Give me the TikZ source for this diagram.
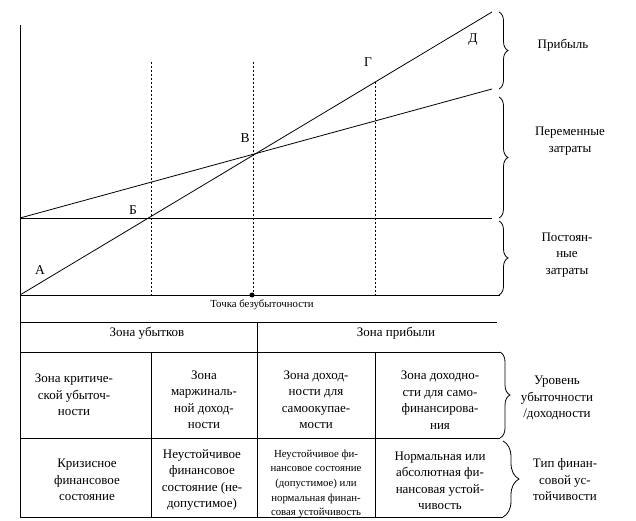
\documentclass[tikz,border=0pt]{standalone}
\usepackage{fontspec}
\setmainfont{Liberation Serif}
\usetikzlibrary{decorations.pathreplacing}
\tikzset{
  ln/.style={line width=0.8pt},
  dsh/.style={line width=0.9pt, dash pattern=on 2.2pt off 1.8pt},
  brc/.style={line width=0.8pt, decorate, decoration={brace, amplitude=#1}},
  txt/.style={align=center, inner sep=0pt, font=\fontsize{13}{16.5}\selectfont},
  sml/.style={align=center, inner sep=0pt, font=\fontsize{10.8}{14.6}\selectfont},
  lbl/.style={inner sep=0pt, font=\fontsize{13.5}{15}\selectfont},
}
\begin{document}
\begin{tikzpicture}[x=1pt,y=-1pt]
\useasboundingbox (0,0) rectangle (636,521);
% coordinates
\coordinate (top) at (20,25);
\coordinate (bot) at (20,517);
\coordinate (O) at (20,295);
\coordinate (Rend) at (492,12);
\coordinate (F0) at (20,218);
\coordinate (F1) at (492,218);
\coordinate (V1) at (492,89);
\coordinate (Xend) at (500,295);
% axis
\draw[ln] (top) -- (bot);
\draw[ln] (O) -- (Xend);
\draw[ln] (F0) -- (F1);
\draw[ln] (O) -- (Rend);
\draw[ln] (F0) -- (V1);
% dashed verticals
\coordinate (d1t) at (151,62); \coordinate (d1b) at (151,295);
\coordinate (d2t) at (253,62); \coordinate (d2b) at (253,295);
\coordinate (d3t) at (375,82); \coordinate (d3b) at (375,295);
\draw[dsh] (d1t) -- (d1b);
\draw[dsh] (d2t) -- (d2b);
\draw[dsh] (d3t) -- (d3b);
\fill (252,295) circle (2.5pt);
% point labels
\node[lbl] (A) at (40,270) {А};
\node[lbl] (B) at (133,210) {Б};
\node[lbl] (V) at (245,138) {В};
\node[lbl] (G) at (368,62) {Г};
\node[lbl] (D) at (473,40) {Д};
\node[sml, font=\fontsize{10.8}{12}\selectfont] (tb) at (262,305) {Точка безубыточности};
% right braces (chart)
\coordinate (b1t) at (499,12); \coordinate (b1b) at (499,89);
\coordinate (b2t) at (499,97); \coordinate (b2b) at (499,218);
\coordinate (b3t) at (499,221); \coordinate (b3b) at (499,295);
\draw[brc=9pt] (b1t) -- (b1b);
\draw[brc=9pt] (b2t) -- (b2b);
\draw[brc=9pt] (b3t) -- (b3b);
\node[txt] (pr) at (563,45) {Прибыль};
\node[txt] (pz) at (570,141) {Переменные\\затраты};
\node[txt] (pc) at (567,255) {Постоян-\\ные\\затраты};
% table lines
\coordinate (h1a) at (20,322); \coordinate (h1b) at (497,322);
\coordinate (h2a) at (20,352); \coordinate (h2b) at (500,352);
\coordinate (h3a) at (20,438); \coordinate (h3b) at (500,438);
\coordinate (h4a) at (20,517); \coordinate (h4b) at (503,517);
\draw[ln] (h1a) -- (h1b);
\draw[ln] (h2a) -- (h2b);
\draw[ln] (h3a) -- (h3b);
\draw[ln] (h4a) -- (h4b);
\coordinate (v1t) at (257,322); \coordinate (v1b) at (257,517);
\coordinate (v2t) at (151,352); \coordinate (v2b) at (151,517);
\coordinate (v3t) at (375,352); \coordinate (v3b) at (375,517);
\draw[ln] (v1t) -- (v1b);
\draw[ln] (v2t) -- (v2b);
\draw[ln] (v3t) -- (v3b);
% table braces
\draw[brc=10pt] (h2b) -- (h3b);
\coordinate (t2t) at (503,441);
\draw[brc=16pt] (t2t) -- (h4b);
% table texts
\node[txt] (zu) at (147,333) {Зона убытков};
\node[txt] (zp) at (396,333) {Зона прибыли};
\node[txt] (c11) at (74,395) {Зона критиче-\\ской убыточ-\\ности};
\node[txt] (c12) at (204,400) {Зона\\маржиналь-\\ной доход-\\ности};
\node[txt] (c13) at (316,400) {Зона доход-\\ности для\\самоокупае-\\мости};
\node[txt] (c14) at (440,400) {Зона доходно-\\сти для само-\\финансирова-\\ния};
\node[txt] (c21) at (87,480) {Кризисное\\финансовое\\состояние};
\node[txt] (c22) at (202,480) {Неустойчивое\\финансовое\\состояние (не-\\допустимое)};
\node[sml] (c23) at (316,484) {Неустойчивое фи-\\нансовое состояние\\(допустимое) или\\нормальная финан-\\совая устойчивость};
\node[txt] (c24) at (440,481) {Нормальная или\\абсолютная фи-\\нансовая устой-\\чивость};
\node[txt] (ur) at (557,398) {Уровень\\убыточности\\/доходности};
\node[txt] (tf) at (565,480) {Тип финан-\\совой ус-\\тойчивости};
\end{tikzpicture}
\end{document}
